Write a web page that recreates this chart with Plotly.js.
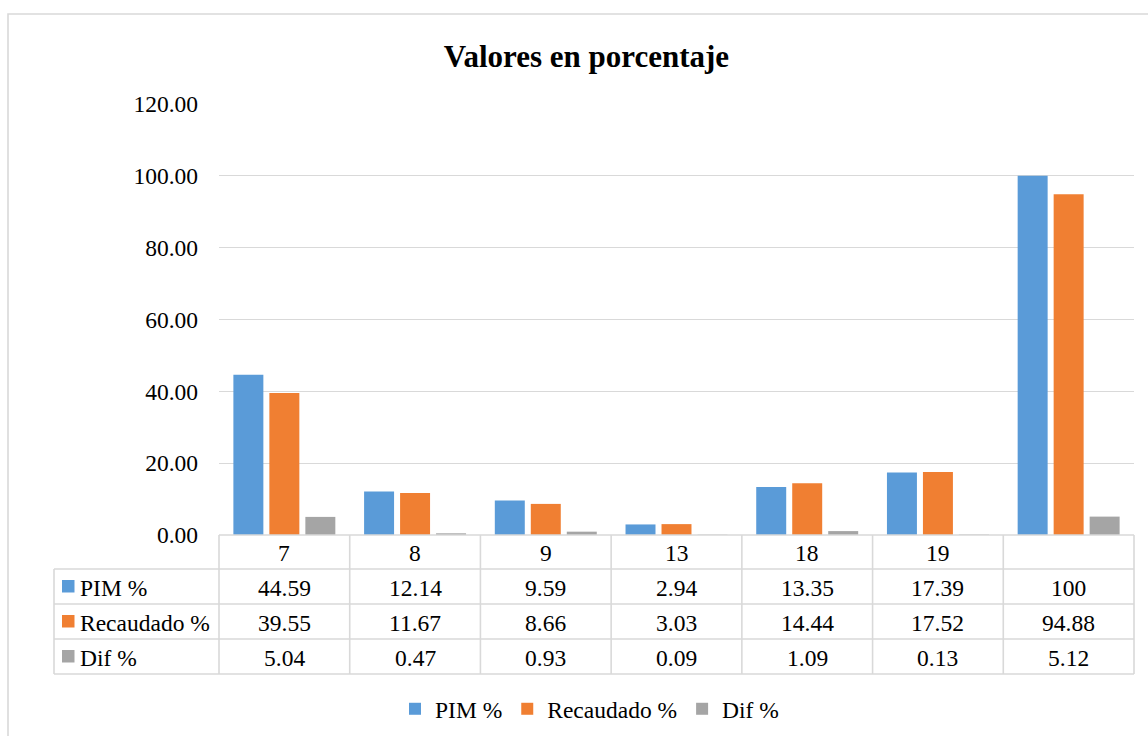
<!DOCTYPE html>
<html><head><meta charset="utf-8">
<script src="https://cdn.plot.ly/plotly-3.0.1.min.js"></script>
<style>html,body{margin:0;padding:0;background:#fff;} #chart{width:1148px;height:736px;}</style>
</head><body><div id="chart"></div>
<script>
// ---- data ----
const categories = ["7", "8", "9", "13", "18", "19", ""];
const seriesNames = ["PIM %", "Recaudado %", "Dif %"];
const pim = [44.59, 12.14, 9.59, 2.94, 13.35, 17.39, 100];
const recaudado = [39.55, 11.67, 8.66, 3.03, 14.44, 17.52, 94.88];
const dif = [5.04, 0.47, 0.93, 0.09, 1.09, 0.13, 5.12];
const yTicks = [0, 20, 40, 60, 80, 100, 120];

// ---- style ----
const colors = ["#5a9bd8", "#f07f32", "#a5a5a5"];
const FONT = "'Liberation Serif', 'Times New Roman', 'DejaVu Serif', serif";
const FS = 23.5;
const GRID = "#d9d9d9";

const series = [pim, recaudado, dif];
const idx = categories.map((_, i) => i);

// plot-area geometry (pixels) used for placing table furniture
const W = 1148, H = 736;
const L = 219, R = 1134, T = 104, B = 535;
const px = x => (x - L) / (R - L);
const py = y => (B - y) / (B - T);

const traces = series.map((vals, k) => ({
  type: "bar",
  name: seriesNames[k],
  x: idx,
  y: vals,
  marker: {color: colors[k]},
  hoverinfo: "skip"
}));

const shapes = [];
const annotations = [];
const lineStyle = {color: GRID, width: 1.6};

// outer chart border
shapes.push({type: "rect", xref: "paper", yref: "paper", layer: "below",
  x0: px(8), x1: px(1170), y0: py(14), y1: py(760), line: {color: GRID, width: 1.6}});

// table rows (pixel y of borders)
const rowTop = [535, 569, 604, 639, 674];
const nCol = categories.length;
shapes.push({type: "line", xref: "paper", yref: "paper", x0: 0, x1: 1, y0: py(rowTop[0]), y1: py(rowTop[0]), line: lineStyle});
for (let r = 1; r < rowTop.length; r++) {
  shapes.push({type: "line", xref: "paper", yref: "paper", x0: px(54), x1: 1, y0: py(rowTop[r]), y1: py(rowTop[r]), line: lineStyle});
}
for (let c = 0; c <= nCol; c++) {
  shapes.push({type: "line", xref: "paper", yref: "paper", x0: c / nCol, x1: c / nCol, y0: py(rowTop[0]), y1: py(rowTop[4]), line: lineStyle});
}
shapes.push({type: "line", xref: "paper", yref: "paper", x0: px(54), x1: px(54), y0: py(rowTop[1]), y1: py(rowTop[4]), line: lineStyle});

// header labels
categories.forEach((c, i) => {
  annotations.push({xref: "x", yref: "paper", x: i, y: py((rowTop[0] + rowTop[1]) / 2 + 1),
    text: c, showarrow: false, xanchor: "center", yanchor: "middle",
    font: {family: FONT, size: FS, color: "#000"}});
});
// value rows
series.forEach((vals, k) => {
  const yc = (rowTop[k + 1] + rowTop[k + 2]) / 2 + 1;
  vals.forEach((v, i) => {
    annotations.push({xref: "x", yref: "paper", x: i, y: py(yc),
      text: String(v), showarrow: false, xanchor: "center", yanchor: "middle",
      font: {family: FONT, size: FS, color: "#000"}});
  });
  annotations.push({xref: "paper", yref: "paper", x: px(78), y: py(yc),
    text: seriesNames[k], showarrow: false, xanchor: "left", yanchor: "middle",
    font: {family: FONT, size: FS, color: "#000"}});
  shapes.push({type: "rect", xref: "paper", yref: "paper",
    x0: px(62), x1: px(74.5), y0: py(yc - 7.5), y1: py(yc + 5),
    fillcolor: colors[k], line: {width: 0}});
});

const layout = {
  width: W, height: H,
  margin: {l: L, r: W - R, t: T, b: H - B, pad: 0},
  paper_bgcolor: "#fff", plot_bgcolor: "rgba(0,0,0,0)",
  font: {family: FONT, size: FS, color: "#000"},
  title: {text: "Valores en porcentaje", xref: "container", yref: "container",
    x: 586.5 / W, y: 1 - 56 / H, xanchor: "center", yanchor: "middle",
    font: {family: FONT, size: 31, weight: "bold", color: "#000"}},
  barmode: "group", bargap: 0.174, bargroupgap: 0.167,
  xaxis: {range: [-0.5, nCol - 0.5], showticklabels: false, showgrid: false, zeroline: false,
    showline: false, ticks: "", fixedrange: true},
  yaxis: {range: [0, 120], tickvals: yTicks, tickformat: ".2f", showgrid: true, gridcolor: GRID, gridwidth: 1.3,
    zeroline: false, showline: false, ticks: "", ticklabelstandoff: 20, fixedrange: true,
    tickfont: {family: FONT, size: FS, color: "#000"}},
  showlegend: true,
  legend: {orientation: "h", xref: "container", yref: "container", x: 589.5 / W, y: 1 - 709 / H,
    xanchor: "center", yanchor: "middle", font: {family: FONT, size: FS, color: "#000"},
    bgcolor: "rgba(0,0,0,0)"},
  shapes: shapes,
  annotations: annotations
};

Plotly.newPlot("chart", traces, layout, {displayModeBar: false, staticPlot: true});
</script>
</body></html>
